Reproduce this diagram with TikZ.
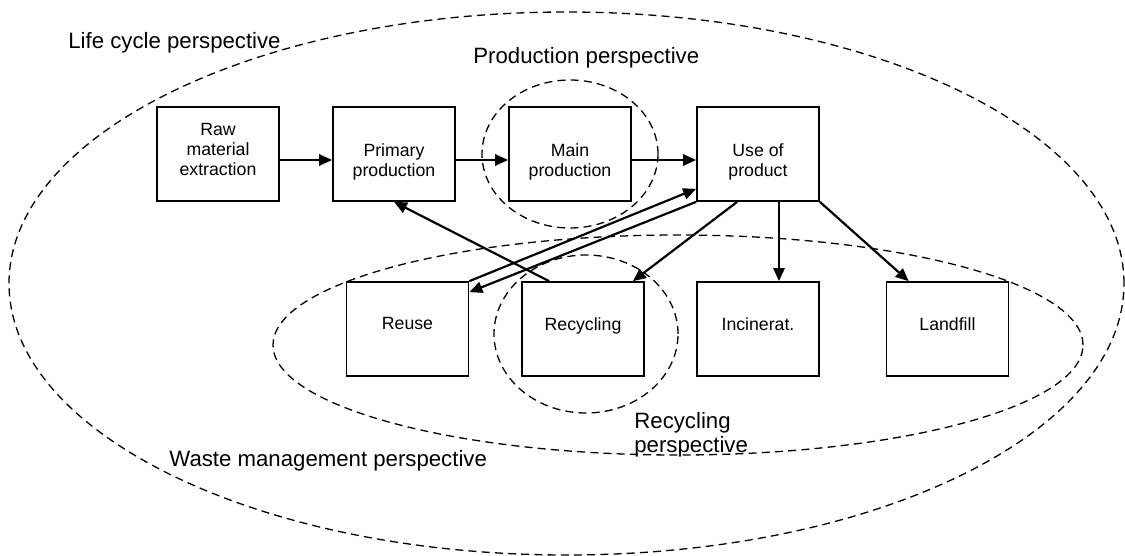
\documentclass[tikz,border=0pt]{standalone}
\usepackage{fontspec}
\setmainfont{Liberation Sans}
\usetikzlibrary{arrows.meta}
\begin{document}
\begin{tikzpicture}[x=0.5pt,y=-0.5pt,
  stage/.style={draw, line width=0.85pt, fill=white, minimum width=61pt,
    minimum height=47pt, inner sep=0pt},
  stagetext/.style={anchor=north, inner sep=0pt, align=center,
    font=\fontsize{8.85}{10}\selectfont},
  persp/.style={draw, dash pattern=on 4pt off 2.6pt, line width=0.65pt},
  plabel/.style={anchor=base west, inner sep=0pt, align=left,
    font=\fontsize{11.1}{12}\selectfont},
  flow/.style={-{Triangle[length=6.5pt,width=5.6pt]}, line width=1.1pt},
]
\useasboundingbox (0,0) rectangle (1125,556);

% perspective boundaries
\draw[persp] (566.5,283.5) ellipse [x radius=278.75pt, y radius=135.75pt];
\draw[persp] (678,345) ellipse [x radius=202.5pt, y radius=55pt];
\draw[persp] (570,154) ellipse [x radius=44pt, y radius=37pt];
\draw[persp] (586,334) ellipse [x radius=46pt, y radius=39.5pt];

% perspective labels (base anchor sits on the last line)
\node[plabel] (lifelbl) at (68,49) {Life cycle perspective};
\node[plabel] (prodlbl) at (473,64) {Production perspective};
\node[plabel] (wastelbl) at (169,466) {Waste management perspective};
\node[plabel] (recyclbl) at (634,452) {Recycling\\perspective};

% life cycle stages
\node[stage] (raw)   at (218,154) {};
\node[stage] (prim)  at (394,154) {};
\node[stage] (main)  at (570,154) {};
\node[stage] (use)   at (758,154) {};
\node[stage] (reuse) at (407.5,329) {};
\node[stage] (recyc) at (583,329) {};
\node[stage] (incin) at (758,329) {};
\node[stage] (land)  at (947.5,329) {};

\node[stagetext] (rawtxt)   at (218,123) {Raw\\material\\extraction};
\node[stagetext] (primtxt)  at (394,143) {Primary\\production};
\node[stagetext] (maintxt)  at (570,143) {Main\\production};
\node[stagetext] (usetxt)   at (758,143) {Use of\\product};
\node[stagetext] (reusetxt) at (407.5,317) {Reuse};
\node[stagetext] (recyctxt) at (583,317) {Recycling};
\node[stagetext] (incintxt) at (758,317) {Incinerat.};
\node[stagetext] (landtxt)  at (947.5,317) {Landfill};

% material flows
\draw[flow] ([yshift=-3pt]raw.east) -- ([yshift=-3pt]prim.west);
\draw[flow] ([yshift=-3pt]prim.east) -- ([yshift=-3pt]main.west);
\draw[flow] ([yshift=-3pt]main.east) -- ([yshift=-3pt]use.west);
\draw[flow] (use.south west) -- ([yshift=-5.5pt]reuse.north east);
\draw[flow] (reuse.north east) -- ([yshift=6.5pt]use.south west);
\draw[flow] ([xshift=14pt]recyc.north west) -- (prim.south);
\draw[flow] ([xshift=20.5pt]use.south west) -- ([xshift=-6pt]recyc.north east);
\draw[flow] ([xshift=10.5pt]use.south) -- ([xshift=10.5pt]incin.north);
\draw[flow] (use.south east) -- ([xshift=11.5pt]land.north west);
\end{tikzpicture}
\end{document}
